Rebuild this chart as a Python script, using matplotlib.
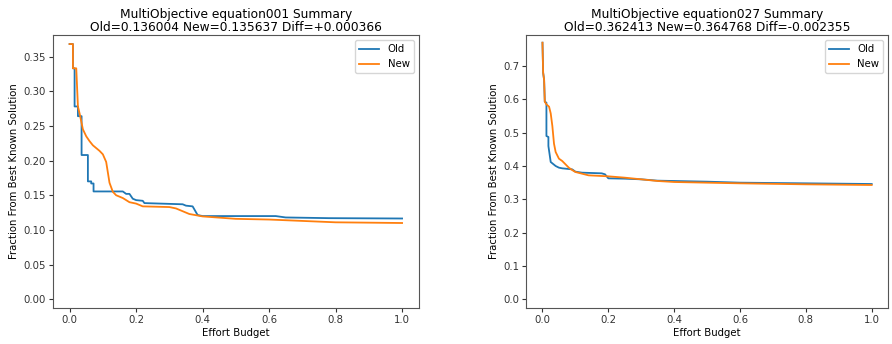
import matplotlib
matplotlib.use("Agg")
import matplotlib.pyplot as plt

# ---- Left panel: equation001 ----
left_title = "MultiObjective equation001 Summary\nOld=0.136004 New=0.135637 Diff=+0.000366"
left_old_x = [0.0, 0.01, 0.01, 0.015, 0.015, 0.025, 0.025, 0.036, 0.036, 0.055, 0.055, 0.065, 0.065, 0.072, 0.072,
              0.16, 0.17, 0.18, 0.19, 0.2, 0.22, 0.225, 0.34, 0.35, 0.37, 0.385, 0.40, 0.62, 0.65, 0.78, 1.0]
left_old_y = [0.368, 0.368, 0.333, 0.333, 0.278, 0.278, 0.264, 0.264, 0.208, 0.208, 0.170, 0.170, 0.167, 0.167, 0.1555,
              0.1555, 0.152, 0.152, 0.145, 0.143, 0.142, 0.1387, 0.137, 0.135, 0.134, 0.1215, 0.120, 0.120, 0.118, 0.117, 0.1165]
left_new_x = [0.0, 0.01, 0.01, 0.02, 0.025, 0.03, 0.04, 0.05, 0.06, 0.07, 0.08, 0.09, 0.10, 0.11, 0.12,
              0.13, 0.14, 0.16, 0.18, 0.20, 0.22, 0.30, 0.32, 0.34, 0.36, 0.40, 0.50, 0.60, 0.70, 0.80, 1.0]
left_new_y = [0.368, 0.368, 0.333, 0.333, 0.278, 0.268, 0.245, 0.235, 0.228, 0.222, 0.218, 0.214, 0.209, 0.198, 0.168,
              0.155, 0.150, 0.146, 0.140, 0.138, 0.134, 0.133, 0.131, 0.127, 0.123, 0.1195, 0.116, 0.115, 0.113, 0.111, 0.110]

# ---- Right panel: equation027 ----
right_title = "MultiObjective equation027 Summary\nOld=0.362413 New=0.364768 Diff=-0.002355"
right_old_x = [0.0, 0.002, 0.005, 0.007, 0.012, 0.012, 0.018, 0.018, 0.025, 0.03, 0.04, 0.05, 0.06, 0.09,
               0.10, 0.12, 0.18, 0.19, 0.20, 0.25, 0.30, 0.35, 0.50, 0.60, 0.80, 1.0]
right_old_y = [0.77, 0.68, 0.658, 0.593, 0.590, 0.490, 0.487, 0.460, 0.412, 0.408, 0.400, 0.395, 0.393, 0.390,
               0.383, 0.380, 0.378, 0.375, 0.363, 0.362, 0.360, 0.356, 0.353, 0.350, 0.348, 0.346]
right_new_x = [0.0, 0.002, 0.005, 0.007, 0.012, 0.02, 0.025, 0.03, 0.035, 0.04, 0.05, 0.06, 0.07, 0.08, 0.09,
               0.10, 0.12, 0.14, 0.20, 0.25, 0.30, 0.35, 0.40, 0.50, 0.60, 0.80, 1.0]
right_new_y = [0.77, 0.68, 0.658, 0.593, 0.585, 0.578, 0.558, 0.52, 0.467, 0.442, 0.422, 0.415, 0.405, 0.395, 0.388,
               0.382, 0.377, 0.372, 0.369, 0.365, 0.360, 0.355, 0.352, 0.350, 0.348, 0.345, 0.343]

left_yticks = [0.0, 0.05, 0.10, 0.15, 0.20, 0.25, 0.30, 0.35]
right_yticks = [0.0, 0.1, 0.2, 0.3, 0.4, 0.5, 0.6, 0.7]
xticks = [0.0, 0.2, 0.4, 0.6, 0.8, 1.0]

plt.rcParams['font.size'] = 7.3

fig = plt.figure(figsize=(8.92, 3.44), dpi=100)
axL = fig.add_axes([0.0594, 0.1047, 0.410, 0.7935])
axR = fig.add_axes([0.5897, 0.1047, 0.406, 0.7935])

def draw(ax, title, ox, oy, nx, ny, yticks, ylim, fmt):
    ax.plot(ox, oy, color='#1f77b4', lw=1.3, label='Old')
    ax.plot(nx, ny, color='#ff7f0e', lw=1.3, label='New')
    ax.set_title(title, fontsize=8.8, linespacing=1.0, pad=3)
    ax.set_xlabel('Effort Budget', fontsize=7.3, labelpad=2)
    ax.set_ylabel('Fraction From Best Known Solution', fontsize=7.3, labelpad=3)
    ax.set_xlim(-0.05, 1.05)
    ax.set_ylim(*ylim)
    ax.set_xticks(xticks)
    ax.set_xticklabels([f"{t:.1f}" for t in xticks])
    ax.set_yticks(yticks)
    ax.set_yticklabels([fmt.format(t) for t in yticks])
    ax.tick_params(labelsize=7.3, length=3, pad=2, colors='#333333')
    for s in ax.spines.values():
        s.set_color('#555555')
    ax.legend(loc='upper right', fontsize=7.3)

draw(axL, left_title, left_old_x, left_old_y, left_new_x, left_new_y, left_yticks, (-0.0125, 0.381), "{:.2f}")
draw(axR, right_title, right_old_x, right_old_y, right_new_x, right_new_y, right_yticks, (-0.026, 0.793), "{:.1f}")

fig.savefig('out.png', dpi=100)
